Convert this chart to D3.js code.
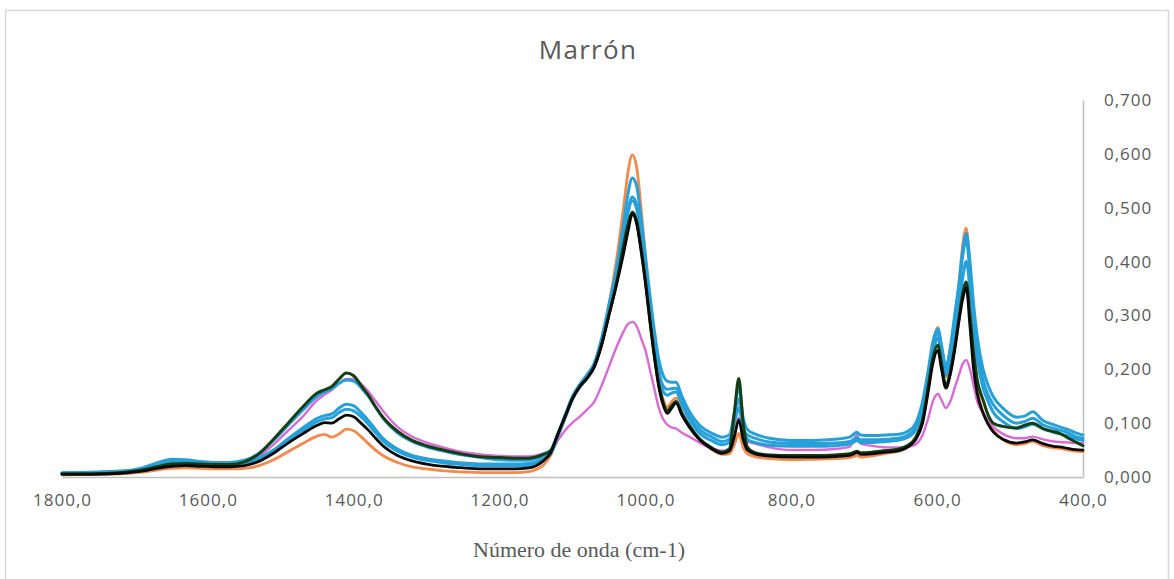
<!DOCTYPE html>
<html>
<head>
<meta charset="utf-8">
<script src="https://cdn.jsdelivr.net/npm/d3@7"></script>
<style>
  html, body { margin: 0; padding: 0; background: #fff; }
  svg { display: block; }
</style>
</head>
<body>
<svg id="chart" width="1174" height="579"></svg>
<script>
// Wavenumbers (cm-1), shared by every spectrum
const wavenumbers = [
  1800,1760,1720,1690,1670,1650,1630,1610,1590,1570,1550,1530,1510,1490,1470,1450,1440,1430,1420,1410,
  1400,1390,1380,1370,1360,1340,1320,1300,1280,1260,1240,1220,1200,1180,1160,1150,1140,
  1130,1120,1110,1100,1090,1080,1070,1060,1050,1040,
  1030,1024,1018,1012,1006,1000,994,988,982,976,
  970,964,958,950,940,925,910,895,885,878,
  872,866,860,850,830,800,770,740,720,714,
  710,705,690,670,650,640,630,620,612,606,
  599,594,588,582,576,570,565,560,555,550,
  545,537,530,523,510,491,480,469,455,440,
  432,420,410,400
];

// Absorbance of each sample
const orangeSeries = [
  0.004,0.005,0.006,0.009,0.013,0.016,0.017,0.016,0.015,0.015,0.016,0.021,0.032,0.047,0.062,0.076,0.079,0.074,0.08,0.089,
  0.086,0.075,0.062,0.05,0.04,0.027,0.019,0.015,0.012,0.01,0.009,0.008,0.008,0.008,0.01,0.014,0.022,
  0.04,0.075,0.11,0.145,0.17,0.188,0.21,0.255,0.32,0.4,
  0.5,0.565,0.598,0.575,0.5,0.41,0.32,0.24,0.18,0.145,
  0.13,0.14,0.147,0.12,0.094,0.068,0.052,0.042,0.043,0.06,
  0.081,0.055,0.043,0.038,0.034,0.032,0.033,0.034,0.036,0.038,
  0.04,0.037,0.039,0.044,0.049,0.056,0.072,0.11,0.18,0.24,
  0.278,0.235,0.186,0.22,0.29,0.36,0.43,0.462,0.38,0.26,
  0.17,0.12,0.1,0.086,0.07,0.06,0.062,0.066,0.058,0.054,
  0.053,0.05,0.048,0.047
];
const pinkSeries = [
  0.006,0.006,0.008,0.012,0.018,0.023,0.025,0.025,0.024,0.025,0.029,0.039,0.06,0.086,0.112,0.143,0.153,0.162,0.174,0.182,
  0.182,0.173,0.159,0.141,0.123,0.093,0.075,0.064,0.056,0.049,0.044,0.041,0.039,0.038,0.038,0.04,0.044,
  0.047,0.068,0.087,0.101,0.112,0.125,0.14,0.17,0.205,0.24,
  0.27,0.284,0.288,0.28,0.258,0.235,0.2,0.165,0.13,0.108,
  0.097,0.092,0.09,0.082,0.075,0.063,0.054,0.049,0.05,0.078,
  0.11,0.078,0.066,0.062,0.055,0.05,0.05,0.052,0.056,0.07,
  0.078,0.062,0.058,0.055,0.055,0.056,0.06,0.078,0.11,0.14,
  0.154,0.143,0.128,0.14,0.165,0.19,0.21,0.217,0.2,0.17,
  0.14,0.119,0.105,0.093,0.08,0.072,0.072,0.075,0.07,0.066,
  0.065,0.064,0.063,0.063
];
const blueSeriesA = [
  0.008,0.009,0.011,0.017,0.026,0.033,0.032,0.029,0.027,0.027,0.031,0.044,0.068,0.096,0.124,0.15,0.158,0.164,0.174,0.18,
  0.178,0.166,0.15,0.13,0.11,0.082,0.066,0.056,0.049,0.043,0.039,0.035,0.032,0.031,0.031,0.034,0.042,
  0.05,0.08,0.115,0.15,0.172,0.19,0.212,0.258,0.32,0.385,
  0.47,0.525,0.555,0.54,0.48,0.41,0.34,0.275,0.22,0.19,
  0.178,0.176,0.176,0.15,0.122,0.095,0.082,0.074,0.078,0.12,
  0.168,0.11,0.088,0.08,0.072,0.068,0.068,0.07,0.074,0.08,
  0.083,0.078,0.077,0.078,0.08,0.085,0.098,0.14,0.2,0.25,
  0.275,0.245,0.205,0.24,0.3,0.36,0.42,0.452,0.4,0.32,
  0.26,0.2,0.17,0.149,0.128,0.111,0.113,0.121,0.105,0.097,
  0.093,0.088,0.082,0.078
];
const blueSeriesB = [
  0.007,0.008,0.01,0.015,0.023,0.03,0.029,0.027,0.025,0.025,0.027,0.035,0.05,0.071,0.091,0.109,0.114,0.117,0.128,0.135,
  0.132,0.12,0.105,0.088,0.072,0.052,0.04,0.034,0.03,0.027,0.025,0.024,0.024,0.024,0.025,0.028,0.036,
  0.045,0.078,0.113,0.148,0.17,0.187,0.208,0.252,0.31,0.37,
  0.445,0.495,0.52,0.505,0.455,0.39,0.32,0.255,0.2,0.17,
  0.163,0.164,0.165,0.14,0.113,0.087,0.075,0.066,0.07,0.1,
  0.128,0.09,0.078,0.072,0.065,0.062,0.062,0.063,0.066,0.07,
  0.073,0.069,0.069,0.07,0.073,0.078,0.09,0.13,0.19,0.24,
  0.268,0.24,0.2,0.235,0.29,0.35,0.41,0.44,0.38,0.3,
  0.24,0.18,0.152,0.134,0.115,0.1,0.103,0.109,0.097,0.09,
  0.087,0.082,0.075,0.072
];
const blueSeriesC = [
  0.007,0.008,0.01,0.015,0.022,0.028,0.028,0.026,0.024,0.024,0.026,0.033,0.047,0.067,0.086,0.103,0.108,0.11,0.12,0.126,
  0.123,0.112,0.098,0.082,0.067,0.048,0.037,0.031,0.027,0.024,0.022,0.021,0.021,0.021,0.022,0.026,0.034,
  0.043,0.076,0.11,0.145,0.167,0.184,0.205,0.25,0.305,0.365,
  0.44,0.49,0.513,0.498,0.45,0.385,0.315,0.25,0.195,0.16,
  0.152,0.156,0.158,0.134,0.107,0.08,0.068,0.06,0.064,0.11,
  0.145,0.09,0.07,0.064,0.059,0.057,0.057,0.058,0.061,0.065,
  0.068,0.064,0.064,0.066,0.069,0.074,0.086,0.125,0.18,0.228,
  0.258,0.228,0.19,0.22,0.27,0.32,0.37,0.40,0.35,0.28,
  0.22,0.165,0.14,0.12,0.103,0.09,0.093,0.098,0.09,0.083,
  0.08,0.076,0.071,0.068
];
const greenSeries = [
  0.006,0.006,0.008,0.013,0.019,0.024,0.025,0.024,0.023,0.023,0.028,0.043,0.07,0.1,0.13,0.156,0.162,0.168,0.182,0.193,
  0.188,0.17,0.152,0.13,0.111,0.085,0.068,0.058,0.051,0.045,0.04,0.037,0.036,0.035,0.035,0.037,0.042,
  0.048,0.08,0.113,0.146,0.168,0.184,0.206,0.247,0.302,0.358,
  0.43,0.468,0.492,0.475,0.425,0.365,0.295,0.23,0.175,0.14,
  0.123,0.132,0.14,0.118,0.096,0.07,0.055,0.046,0.052,0.12,
  0.183,0.1,0.055,0.045,0.041,0.04,0.04,0.041,0.043,0.046,
  0.048,0.045,0.046,0.049,0.053,0.059,0.072,0.105,0.17,0.22,
  0.245,0.21,0.17,0.195,0.24,0.295,0.34,0.362,0.3,0.23,
  0.18,0.143,0.115,0.1,0.094,0.091,0.096,0.1,0.09,0.084,
  0.081,0.072,0.065,0.058
];
const blackSeries = [
  0.005,0.005,0.007,0.011,0.016,0.02,0.021,0.02,0.019,0.019,0.021,0.029,0.044,0.063,0.08,0.096,0.101,0.1,0.108,0.115,
  0.112,0.1,0.087,0.072,0.058,0.04,0.03,0.024,0.02,0.018,0.016,0.015,0.015,0.015,0.017,0.021,0.03,
  0.045,0.08,0.113,0.145,0.168,0.183,0.205,0.245,0.3,0.355,
  0.415,0.455,0.488,0.47,0.42,0.36,0.29,0.225,0.17,0.135,
  0.118,0.128,0.137,0.115,0.093,0.068,0.053,0.044,0.048,0.075,
  0.106,0.07,0.05,0.043,0.039,0.037,0.037,0.038,0.04,0.043,
  0.046,0.042,0.043,0.046,0.05,0.056,0.068,0.1,0.16,0.21,
  0.235,0.2,0.165,0.19,0.235,0.29,0.33,0.352,0.28,0.2,
  0.155,0.119,0.098,0.084,0.07,0.063,0.065,0.069,0.062,0.057,
  0.056,0.053,0.051,0.05
];

const xTickValues = [1800, 1600, 1400, 1200, 1000, 800, 600, 400];
const yTickValues = [0, 0.1, 0.2, 0.3, 0.4, 0.5, 0.6, 0.7];

const chartTitle = "Marrón";
const xAxisTitle = "Número de onda (cm-1)";

// Series drawn in order; later ones sit on top
const spectra = [
  { values: orangeSeries, color: "#F28A4C", width: 2.8 },
  { values: pinkSeries,   color: "#D96BD4", width: 2.4 },
  { values: blueSeriesC,  color: "#27A0DA", width: 3.0 },
  { values: blueSeriesB,  color: "#27A0DA", width: 3.0 },
  { values: blueSeriesA,  color: "#27A0DA", width: 3.0 },
  { values: greenSeries,  color: "#143F14", width: 3.0 },
  { values: blackSeries,  color: "#0A0A0A", width: 2.8 }
];

const svg = d3.select("#chart");
const plot = { left: 62, right: 1083, top: 100, bottom: 477 };

// Outer chart frame
svg.append("rect")
  .attr("x", 5.5).attr("y", 10.5)
  .attr("width", 1163).attr("height", 600)
  .attr("fill", "#fff")
  .attr("stroke", "#d9d9d9").attr("stroke-width", 1.5);

const x = d3.scaleLinear().domain([1800, 400]).range([plot.left, plot.right]);
const y = d3.scaleLinear().domain([0, 0.7]).range([plot.bottom, plot.top]);

const fmtX = v => d3.format(".1f")(v).replace(".", ",");
const fmtY = v => d3.format(".3f")(v).replace(".", ",");

const tickFont = sel => sel
  .attr("fill", "#595959")
  .style("font-family", "'Open Sans', sans-serif")
  .style("font-size", "17px")
  .style("letter-spacing", "1px");

// X axis along the bottom
const xAxis = svg.append("g")
  .attr("transform", `translate(0,${plot.bottom})`)
  .call(d3.axisBottom(x).tickValues(xTickValues).tickSize(0).tickPadding(17).tickFormat(fmtX));
xAxis.select(".domain").attr("stroke", "#bfbfbf").attr("stroke-width", 1.5);
xAxis.selectAll("text").call(tickFont);

// Y axis on the right
const yAxis = svg.append("g")
  .attr("transform", `translate(${plot.right},0)`)
  .call(d3.axisRight(y).tickValues(yTickValues).tickSize(0).tickPadding(21).tickFormat(fmtY));
yAxis.select(".domain").attr("stroke", "#bfbfbf").attr("stroke-width", 1.5);
yAxis.selectAll("text").call(tickFont);

// Spectra
const line = d3.line()
  .x((d, i) => x(wavenumbers[i]))
  .y(d => y(d))
  .curve(d3.curveMonotoneX);

svg.append("g")
  .selectAll("path")
  .data(spectra)
  .join("path")
  .attr("d", s => line(s.values))
  .attr("fill", "none")
  .attr("stroke", s => s.color)
  .attr("stroke-width", s => s.width)
  .attr("stroke-linejoin", "round")
  .attr("stroke-linecap", "round");

// Titles
svg.append("text")
  .attr("x", 588).attr("y", 59)
  .attr("text-anchor", "middle")
  .attr("fill", "#595959")
  .style("font-family", "'Open Sans', sans-serif")
  .style("font-size", "26px")
  .style("letter-spacing", "1.3px")
  .text(chartTitle);

svg.append("text")
  .attr("x", 579).attr("y", 557)
  .attr("text-anchor", "middle")
  .attr("fill", "#595959")
  .style("font-family", "'Liberation Serif', 'Times New Roman', serif")
  .style("font-size", "22px")
  .text(xAxisTitle);
</script>
</body>
</html>
